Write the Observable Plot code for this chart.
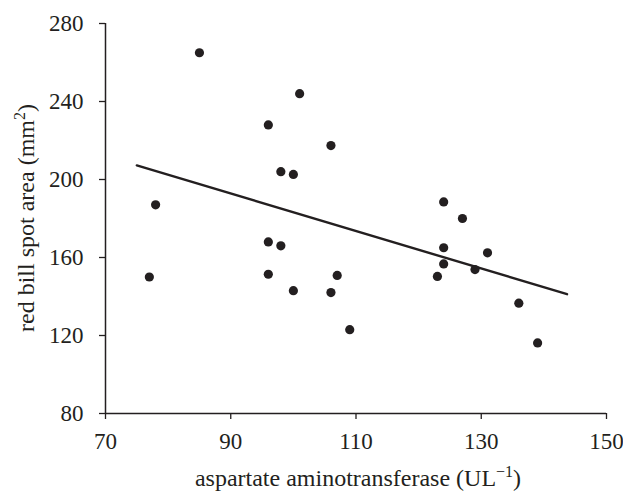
<!DOCTYPE html>
<html>
<head>
<meta charset="utf-8">
<script src="https://cdn.jsdelivr.net/npm/d3@7"></script>
<script src="https://cdn.jsdelivr.net/npm/@observablehq/plot@0.6"></script>
<style>
  html, body { margin: 0; padding: 0; background: #fff; }
</style>
</head>
<body>
<div id="chart"></div>
<script>
// aspartate aminotransferase (UL^-1)
const ast = [77, 78, 85, 96, 101, 98, 100, 106, 96, 98, 96, 100, 106, 107, 109, 124, 127, 124, 131, 124, 129, 123, 136, 139];
// red bill spot area (mm^2)
const spotArea = [150, 187, 265, 228, 244, 204, 202.6, 217.4, 168, 166, 151.4, 143, 142, 150.8, 123, 188.5, 180, 165, 162.4, 156.7, 153.8, 150.3, 136.6, 116.2];
// fitted regression line endpoints
const fitX = [75, 143.7];
const fitY = [207.2, 141.2];
const xTicks = [70, 90, 110, 130, 150];
const yTicks = [80, 120, 160, 200, 240, 280];

const points = ast.map((x, i) => ({x, y: spotArea[i]}));
const fit = fitX.map((x, i) => ({x, y: fitY[i]}));
const ink = "#231f20";
const serif = "'Liberation Serif', 'Times New Roman', serif";

const plot = Plot.plot({
  width: 623,
  height: 492,
  marginLeft: 105,
  marginRight: 17,
  marginTop: 23,
  marginBottom: 79,
  style: { fontFamily: serif, fontSize: "23px", color: ink, background: "#fff", fontVariant: "normal" },
  x: { domain: [70, 150] },
  y: { domain: [80, 280] },
  marks: [
    Plot.axisX({ ticks: xTicks, tickSize: 6, tickPadding: 13, label: null, fontSize: 23, fontFamily: serif, fontVariant: "normal", stroke: ink, strokeWidth: 1.3 }),
    Plot.axisY({ ticks: yTicks, tickSize: 6, tickPadding: 16, label: null, fontSize: 23, fontFamily: serif, fontVariant: "normal", stroke: ink, strokeWidth: 1.3 }),
    Plot.ruleY([80], { stroke: ink, strokeWidth: 1.5 }),
    Plot.ruleX([70], { stroke: ink, strokeWidth: 1.5 }),
    Plot.line(fit, { x: "x", y: "y", stroke: ink, strokeWidth: 2.4 }),
    Plot.dot(points, { x: "x", y: "y", r: 4.6, fill: ink, stroke: "none" })
  ]
});

const svg = d3.select(plot);

const xl = svg.append("text")
  .attr("x", 358).attr("y", 486)
  .attr("text-anchor", "middle")
  .attr("font-family", serif).attr("font-size", 24).attr("fill", ink);
xl.append("tspan").text("aspartate aminotransferase (UL");
xl.append("tspan").attr("dy", -9).attr("font-size", 16).text("\u22121");
xl.append("tspan").attr("dy", 9).text(")");

const yl = svg.append("text")
  .attr("transform", "translate(34,218) rotate(-90)")
  .attr("text-anchor", "middle")
  .attr("font-family", serif).attr("font-size", 24).attr("fill", ink);
yl.append("tspan").text("red bill spot area (mm");
yl.append("tspan").attr("dy", -9).attr("font-size", 16).text("2");
yl.append("tspan").attr("dy", 9).text(")");

document.getElementById("chart").appendChild(plot);
</script>
</body>
</html>
